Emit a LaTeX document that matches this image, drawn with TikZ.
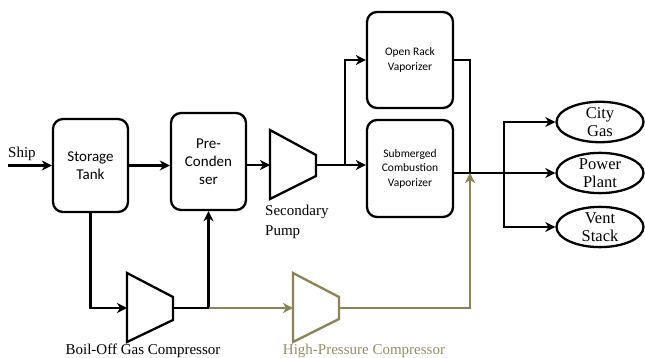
\documentclass[tikz,border=0pt]{standalone}
\usepackage{fontspec}
\setmainfont{Liberation Serif}
\newfontfamily\boxfont{Carlito}
\usetikzlibrary{arrows.meta,shapes.geometric}
\definecolor{olivec}{RGB}{140,130,85}
\definecolor{olivet}{RGB}{150,140,100}
\tikzset{
  flow/.style={line width=2.3pt, -{Stealth[length=10pt,width=10pt,inset=3pt]}},
  plain/.style={line width=2.3pt},
  unit/.style={draw, line width=2.3pt, rounded corners=10pt, align=center, inner sep=2pt},
  bigunit/.style={unit, minimum width=75pt, font=\boxfont\fontsize{15}{18}\selectfont},
  vapunit/.style={unit, minimum width=86pt, font=\boxfont\fontsize{11.5}{14.5}\selectfont},
  sink/.style={draw, ellipse, line width=2.3pt, minimum width=87pt, minimum height=39pt, inner sep=0pt, align=center, font=\fontsize{16.5}{17.5}\selectfont},
  comp/.style={draw, line width=2.3pt, line join=miter},
  lbl/.style={font=\fontsize{15}{20}\selectfont, inner sep=0pt},
}
\begin{document}
\begin{tikzpicture}[x=1pt,y=-1pt]
\useasboundingbox (0,0) rectangle (645,358);

% units
\node[bigunit, minimum height=93pt] (tank) at (90.5,165.5) {Storage\\Tank};
\node[bigunit, minimum height=97pt] (pre) at (208.5,161.5) {Pre-\\Conden\\ser};
\node[vapunit, minimum height=96pt] (orv) at (410,60) {Open Rack\\Vaporizer};
\node[vapunit, minimum height=97pt] (scv) at (410,168.5) {Submerged\\Combustion\\Vaporizer};
\node[sink] (city) at (600,122) {City\\Gas};
\node[sink] (power) at (600,173) {Power\\Plant};
\node[sink] (vent) at (600,227) {Vent\\Stack};

% compressors / pump
\draw[comp] (270,130) -- (316,155) -- (316,176) -- (270,199) -- cycle;
\coordinate (pin) at (270,165);
\coordinate (pout) at (316,165);
\draw[comp] (127,273) -- (173,297) -- (173,320) -- (127,342) -- cycle;
\coordinate (bin) at (127,308);
\coordinate (bout) at (173,308);
\draw[comp, olivec] (293,273) -- (339,297) -- (339,319) -- (293,342) -- cycle;
\coordinate (hin) at (293,308);
\coordinate (hout) at (339,308);

% junction coordinates
\coordinate (ship) at (8,165.5);
\coordinate (split) at (345,165);
\coordinate (join) at (470,173);
\coordinate (branch) at (504,173);
\coordinate (tee) at (208.5,308);

% labels
\node[lbl, anchor=south west] (shiplbl) at (8,161) {Ship};
\node[lbl, anchor=north west, align=left] (pumplbl) at (265,205) {Secondary\\Pump};
\node[lbl, anchor=center] (boglbl) at (143,351) {Boil-Off Gas Compressor};
\node[lbl, anchor=center, text=olivet] (hplbl) at (364,351) {High-Pressure Compressor};

% connectors
\draw[flow] (ship) -- (tank.west);
\draw[flow] (tank.east) -- (pre.west |- tank.east);
\draw[flow] (pre.east |- pin) -- (pin);
\draw[flow] (pout) -- (scv.west |- pout);
\draw[flow] (split) |- (orv.west);
\draw[plain] (orv.east) -| (join);
\draw[plain] (scv.east |- join) -- (branch);
\draw[flow] (branch) |- (city.west);
\draw[flow] (branch) -- (power.west);
\draw[flow] (branch) |- (vent.west);
\draw[flow] (tank.south) |- (bin);
\draw[plain] (bout) -- (tee);
\draw[flow] (tee) -- (pre.south);
\draw[flow, olivec] (tee) -- (hin);
\draw[flow, olivec] (hout) -| (join);
\end{tikzpicture}
\end{document}
